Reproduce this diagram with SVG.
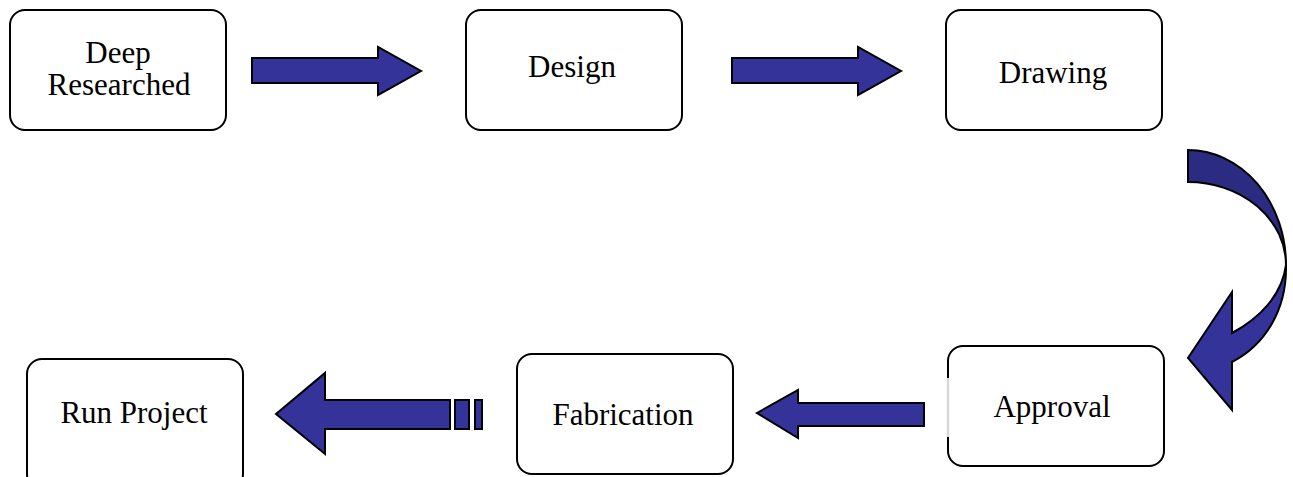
<svg xmlns="http://www.w3.org/2000/svg" width="1293" height="477" viewBox="0 0 1293 477">
<style>
.box{fill:#ffffff;stroke:#000000;stroke-width:2}
.t{font-family:"Liberation Serif","Times New Roman",serif;font-size:31px;fill:#000000;text-anchor:middle}
.arr{fill:#333399;stroke:#000000;stroke-width:2;stroke-linejoin:miter}
.arrd{fill:#2b2b82;stroke:#000000;stroke-width:2}
</style>
<rect width="1293" height="477" fill="#ffffff"/>
<g id="connectors">
<path class="arr" d="M252 58 H378 V47 L421 71 L378 95 V83 H252 Z"/>
<path class="arr" d="M732 58 H858 V47 L901 71 L858 95 V83 H732 Z"/>
<path class="arr" d="M924 403 H798 V390 L757 413 L798 438 V426 H924 Z"/>
<path class="arr" d="M450 400 H325 V373 L276 414 L325 454 V429 H450 Z"/>
<rect class="arr" x="455" y="400" width="14" height="29"/>
<rect class="arr" x="475" y="400" width="7" height="29"/>
<path class="arrd" d="M1188 150 A98 115 0 0 1 1286 265 A98 83 0 0 0 1188 182 Z"/>
<path class="arr" d="M1286 265 C1287 310 1265 345 1232 362 L1232 410 L1188 358 L1232 292 L1232 333 C1260 318 1282 295 1286 265 Z"/>
</g>
<g id="node-deep-researched">
<rect class="box" x="10" y="10" width="216" height="120" rx="15"/>
<text class="t" x="118" y="63">Deep</text>
<text class="t" x="119" y="95">Researched</text>
</g>
<g id="node-design">
<rect class="box" x="466" y="10" width="216" height="120" rx="15"/>
<text class="t" x="572" y="77">Design</text>
</g>
<g id="node-drawing">
<rect class="box" x="946" y="10" width="216" height="120" rx="15"/>
<text class="t" x="1053" y="83">Drawing</text>
</g>
<g id="node-approval">
<rect class="box" x="948" y="346" width="216" height="120" rx="15"/>
<line x1="948" y1="378" x2="948" y2="437" stroke="#d8d8d8" stroke-width="2.5"/>
<text class="t" x="1052" y="417">Approval</text>
</g>
<g id="node-fabrication">
<rect class="box" x="517" y="354" width="216" height="120" rx="15"/>
<text class="t" x="623" y="425">Fabrication</text>
</g>
<g id="node-run-project">
<rect class="box" x="27" y="359" width="216" height="130" rx="15"/>
<text class="t" x="134" y="423">Run Project</text>
</g>
</svg>
